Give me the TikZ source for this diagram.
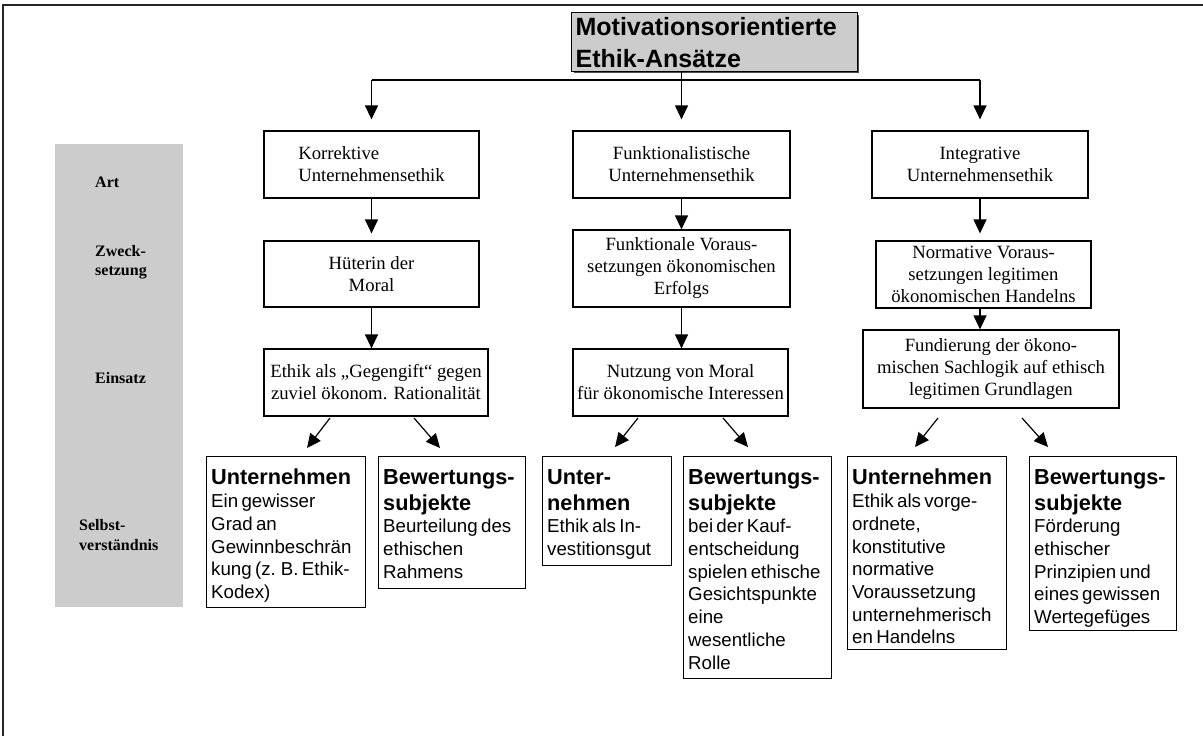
\documentclass[tikz,border=0pt]{standalone}
\usepackage{fontspec}
\setmainfont{Liberation Serif}
\newfontfamily\arialfont{Liberation Sans}
\usetikzlibrary{arrows.meta,calc}
\definecolor{panelgray}{HTML}{CCCCCC}
\newcommand\sertext{\fontsize{18.7}{22}\selectfont}
\newcommand\hdtext{\arialfont\bfseries\fontsize{21.7}{26}\selectfont}
\newcommand\bdtext{\arialfont\mdseries\fontsize{18.7}{22.7}\selectfont}
\newcommand\lbtext{\bfseries\fontsize{16}{19.5}\selectfont}
\newcommand\titletext{\arialfont\bfseries\fontsize{25}{32}\selectfont}
\begin{document}
\begin{tikzpicture}[x=1pt,y=-1pt,
  frameline/.style={line width=1.5pt, draw=black!85},
  boxst/.style={draw, line width=1.2pt, inner sep=0pt},
  sbox/.style={boxst, align=center, font=\sertext},
  tbox/.style={boxst, anchor=north west},
  btext/.style={anchor=north west, inner sep=0pt, text width=170pt, align=left},
  lbl/.style={anchor=west, inner sep=0pt, align=left, font=\lbtext},
  arr/.style={line width=1.2pt, -{Triangle[length=14pt,width=13pt]}},
  conn/.style={line width=1.2pt}]
\useasboundingbox (0,0) rectangle (1203,736);
% frame
\draw[frameline] (3,736) -- (3,5) -- (1203,5);
% left gray column
\fill[panelgray] (55,144) rectangle (183,607);
\node[lbl] (lart) at (95,182) {Art};
\node[lbl] (lzweck) at (95,262) {Zweck-\\setzung};
\node[lbl] (leins) at (95,378) {Einsatz};
\node[lbl] (lselbst) at (79,535) {Selbst-\\verständnis};
% title (with a thin shadow)
\fill[black!70] (574,15) rectangle (859,73);
\node[boxst, fill=panelgray, minimum width=286pt, minimum height=59pt, anchor=north west,
      text width=278pt, align=left, font=\titletext] (t) at (571,12)
      {Motivationsorientierte\\Ethik-Ansätze};
% column 1
\node[sbox, align=left, minimum width=215pt, minimum height=67pt] (k1) at (371.5,164.5) {Korrektive\\Unternehmensethik};
\node[sbox, minimum width=215pt, minimum height=66pt] (k2) at (371.5,274) {Hüterin der\\Moral};
\node[sbox, minimum width=224pt, minimum height=67pt] (k3) at (376,382.5) {Ethik als „Gegengift“ gegen\\zuviel ökonom. Rationalität};
\node[tbox, minimum width=159pt, minimum height=151pt] (k4) at (206,456) {};
\node[btext] (k4t) at ([shift={(5,13)}]k4.north west)
  {\hdtext Unternehmen\par\bdtext Ein gewisser\\Grad an\\Gewinnbeschrän\\kung (z. B. Ethik-\\Kodex)\par};
\node[tbox, minimum width=147pt, minimum height=132pt] (k5) at (378,456) {};
\node[btext] (k5t) at ([shift={(5,13)}]k5.north west)
  {\hdtext Bewertungs-\\subjekte\par\bdtext Beurteilung des\\ethischen\\Rahmens\par};
% column 2
\node[sbox, minimum width=217pt, minimum height=67pt] (f1) at (681.5,164.5) {Funktionalistische\\Unternehmensethik};
\node[sbox, minimum width=217pt, minimum height=77pt] (f2) at (681.5,268.5) {Funktionale Voraus-\\setzungen ökonomischen\\Erfolgs};
\node[sbox, minimum width=215pt, minimum height=67pt] (f3) at (680.5,382.5) {Nutzung von Moral\\für ökonomische Interessen};
\node[tbox, minimum width=129pt, minimum height=109pt] (f4) at (542,456) {};
\node[btext] (f4t) at ([shift={(5,13)}]f4.north west)
  {\hdtext Unter-\\nehmen\par\bdtext Ethik als In-\\vestitionsgut\par};
\node[tbox, minimum width=148pt, minimum height=222pt] (f5) at (683,456) {};
\node[btext] (f5t) at ([shift={(5,13)}]f5.north west)
  {\hdtext Bewertungs-\\subjekte\par\bdtext bei der Kauf-\\entscheidung\\spielen ethische\\Gesichtspunkte\\eine\\wesentliche\\Rolle\par};
% column 3
\node[sbox, minimum width=216pt, minimum height=67pt] (i1) at (980,164.5) {Integrative\\Unternehmensethik};
\node[sbox, minimum width=215pt, minimum height=67pt] (i2) at (983.5,274.5) {Normative Voraus-\\setzungen legitimen\\ökonomischen Handelns};
\node[sbox, minimum width=256pt, minimum height=78pt] (i3) at (991,369) {Fundierung der ökono-\\mischen Sachlogik auf ethisch\\legitimen Grundlagen};
\node[tbox, minimum width=159pt, minimum height=193pt] (i4) at (847,456) {};
\node[btext] (i4t) at ([shift={(5,13)}]i4.north west)
  {\hdtext Unternehmen\par\bdtext Ethik als vorge-\\ordnete,\\konstitutive\\normative\\Voraussetzung\\unternehmerisch\\en Handelns\par};
\node[tbox, minimum width=147pt, minimum height=174pt] (i5) at (1029,456) {};
\node[btext] (i5t) at ([shift={(5,13)}]i5.north west)
  {\hdtext Bewertungs-\\subjekte\par\bdtext Förderung\\ethischer\\Prinzipien und\\eines gewissen\\Wertegefüges\par};
% top connectors
\draw[conn] (k1.north |- 0,80) -- (i1.north |- 0,80);
\draw[arr, shorten >=11pt] (t.south -| f1.north) -- (f1.north);
\draw[arr, shorten >=11pt] (k1.north |- 0,80) -- (k1.north);
\draw[arr, shorten >=11pt] (i1.north |- 0,80) -- (i1.north);
% vertical arrows
\draw[arr, shorten >=7pt] (k1.south) -- (k1.south |- k2.north);
\draw[arr] (k2.south) -- (k2.south |- k3.north);
\draw[arr] (f1.south) -- (f1.south |- f2.north);
\draw[arr] (f2.south) -- (f2.south |- f3.north);
\draw[arr, shorten >=7pt] (i1.south) -- (i1.south |- i2.north);
\draw[arr] (i2.south -| i1.south) -- (i1.south |- i3.north);
% diagonal arrows
\coordinate (d1s) at (330,418); \coordinate (d1e) at (307,448);
\coordinate (d2s) at (414,418); \coordinate (d2e) at (440,448);
\coordinate (d3s) at (638,418); \coordinate (d3e) at (615,447);
\coordinate (d4s) at (723,418); \coordinate (d4e) at (748,447);
\coordinate (d5s) at (938,418); \coordinate (d5e) at (915,447);
\coordinate (d6s) at (1022,418); \coordinate (d6e) at (1048,447);
\draw[arr] (d1s) -- (d1e);
\draw[arr] (d2s) -- (d2e);
\draw[arr] (d3s) -- (d3e);
\draw[arr] (d4s) -- (d4e);
\draw[arr] (d5s) -- (d5e);
\draw[arr] (d6s) -- (d6e);
\end{tikzpicture}
\end{document}
